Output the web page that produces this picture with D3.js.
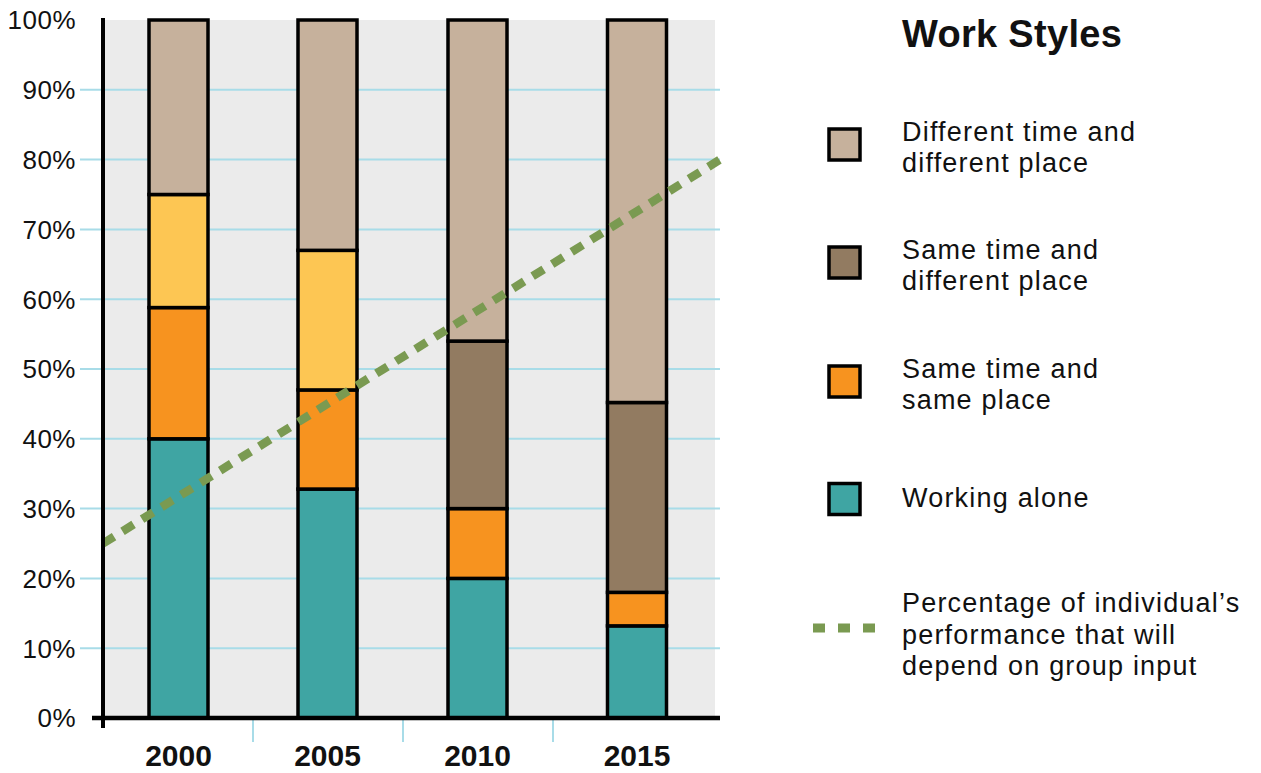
<!DOCTYPE html>
<html>
<head>
<meta charset="utf-8">
<script src="https://cdn.jsdelivr.net/npm/d3@7"></script>
<style>
  html, body { margin: 0; padding: 0; background: #fff; }
  svg { display: block; font-family: "Liberation Sans", Arial, sans-serif; }
</style>
</head>
<body>
<svg id="chart" width="1261" height="773"></svg>
<script>
// -- Data -------------------------------------------------------
const years = ["2000", "2005", "2010", "2015"];
const workingAlone = [40, 32.8, 20, 13.2];
const sameTimeSamePlace = [18.8, 14.2, 10, 4.8];
const differentTimeSamePlace = [16.2, 20, 0, 0];
const sameTimeDifferentPlace = [0, 0, 24, 27.2];
const differentTimeDifferentPlace = [25, 33, 46, 54.8];
const groupInput = [25, 80]; // dashed trend, left edge -> right edge of plot
const yTicks = [0, 10, 20, 30, 40, 50, 60, 70, 80, 90, 100];

const seriesKeys = ["alone", "sameSame", "diffSame", "sameDiff", "diffDiff"];
const seriesColors = {
  alone: "#3fa5a3",
  sameSame: "#f7931f",
  diffSame: "#fdc653",
  sameDiff: "#927b61",
  diffDiff: "#c6b19c",
};

const legendItems = [
  { key: "diffDiff", lines: ["Different time and", "different place"] },
  { key: "sameDiff", lines: ["Same time and", "different place"] },
  { key: "sameSame", lines: ["Same time and", "same place"] },
  { key: "alone", lines: ["Working alone"] },
];
const lineLegend = ["Percentage of individual\u2019s", "performance that will", "depend on group input"];

const rows = years.map((yr, i) => ({
  year: yr,
  alone: workingAlone[i],
  sameSame: sameTimeSamePlace[i],
  diffSame: differentTimeSamePlace[i],
  sameDiff: sameTimeDifferentPlace[i],
  diffDiff: differentTimeDifferentPlace[i],
}));

// -- Layout -----------------------------------------------------
const svg = d3.select("#chart");
const axisX = 103, plotRight = 715, gridRight = 720;
const y = d3.scaleLinear().domain([0, 100]).range([718, 20]);
const xc = d3.scaleOrdinal().domain(years).range([178.5, 327.5, 477.5, 637]);
const sep = d3.scalePoint().domain(years).range([178, 628]);
const barW = 59;
const legendFont = 27, legendSpacing = 1.2, legendLead = 31.5;

// background
svg.append("rect")
  .attr("x", axisX).attr("y", y(100))
  .attr("width", plotRight - axisX).attr("height", y(0) - y(100))
  .attr("fill", "#ebebeb");

// grid lines
svg.append("g")
  .selectAll("line")
  .data(yTicks.filter((t) => t > 0 && t < 100))
  .join("line")
  .attr("x1", 80).attr("x2", gridRight)
  .attr("y1", (d) => y(d)).attr("y2", (d) => y(d))
  .attr("stroke", "#a8dce8").attr("stroke-width", 2);

// y tick labels
svg.append("g")
  .selectAll("text")
  .data(yTicks)
  .join("text")
  .attr("x", 76).attr("y", (d) => y(d))
  .attr("dy", "0.36em")
  .attr("text-anchor", "end")
  .attr("font-size", 26)
  .attr("letter-spacing", 0.5)
  .attr("fill", "#111")
  .text((d) => d + "%");

// separators below axis
const mids = d3.pairs(years).map(([a, b]) => (sep(a) + sep(b)) / 2);
svg.append("g")
  .selectAll("line")
  .data(mids)
  .join("line")
  .attr("x1", (d) => d).attr("x2", (d) => d)
  .attr("y1", 720).attr("y2", 742)
  .attr("stroke", "#a8dce8").attr("stroke-width", 2);

// stacked bars
const stacked = d3.stack().keys(seriesKeys)(rows);
const segs = [];
stacked.forEach((s) => s.forEach((d) => {
  if (d[1] - d[0] > 0) segs.push({ key: s.key, year: d.data.year, y0: d[0], y1: d[1] });
}));

svg.append("g")
  .selectAll("rect")
  .data(segs)
  .join("rect")
  .attr("x", (d) => xc(d.year) - barW / 2)
  .attr("width", barW)
  .attr("y", (d) => y(d.y1))
  .attr("height", (d) => y(d.y0) - y(d.y1))
  .attr("fill", (d) => seriesColors[d.key])
  .attr("stroke", "#000")
  .attr("stroke-width", 3.5);

// dashed trend line
const lx = d3.scaleLinear().domain([0, 1]).range([axisX, gridRight]);
svg.append("path")
  .datum(groupInput)
  .attr("d", d3.line().x((d, i) => lx(i)).y((d) => y(d)))
  .attr("fill", "none")
  .attr("stroke", "#7a9a51")
  .attr("stroke-width", 8.5)
  .attr("stroke-dasharray", "13 10");

// axes
svg.append("line")
  .attr("x1", axisX).attr("x2", axisX)
  .attr("y1", y(100) - 2).attr("y2", 728)
  .attr("stroke", "#000").attr("stroke-width", 4);
svg.append("line")
  .attr("x1", 92).attr("x2", gridRight)
  .attr("y1", y(0)).attr("y2", y(0))
  .attr("stroke", "#000").attr("stroke-width", 4.5);

// x labels
svg.append("g")
  .selectAll("text")
  .data(years)
  .join("text")
  .attr("x", (d) => xc(d)).attr("y", 766)
  .attr("text-anchor", "middle")
  .attr("font-size", 30)
  .attr("font-weight", "bold")
  .attr("fill", "#111")
  .text((d) => d);

// -- Legend -----------------------------------------------------
svg.append("text")
  .attr("x", 902).attr("y", 47)
  .attr("font-size", 38).attr("font-weight", "bold")
  .attr("letter-spacing", 0.3)
  .attr("fill", "#111")
  .text("Work Styles");

function addLines(sel, lines, center) {
  const first = center + 8 - (lines.length - 1) * 12;
  sel.append("text")
    .attr("font-size", legendFont)
    .attr("letter-spacing", legendSpacing)
    .attr("fill", "#111")
    .selectAll("tspan")
    .data(lines)
    .join("tspan")
    .attr("x", 902)
    .attr("y", (l, j) => first + j * legendLead)
    .text((l) => l);
}

const legendY = [144.5, 262.5, 381.5, 499];
legendItems.forEach((item, i) => {
  const g = svg.append("g");
  g.append("rect")
    .attr("x", 829).attr("y", legendY[i] - 15.5)
    .attr("width", 31).attr("height", 31)
    .attr("fill", seriesColors[item.key])
    .attr("stroke", "#000").attr("stroke-width", 3.5);
  addLines(g, item.lines, legendY[i]);
});

svg.append("line")
  .attr("x1", 813).attr("x2", 880)
  .attr("y1", 628).attr("y2", 628)
  .attr("stroke", "#7a9a51").attr("stroke-width", 9)
  .attr("stroke-dasharray", "12 13");
addLines(svg.append("g"), lineLegend, 628);
</script>
</body>
</html>
